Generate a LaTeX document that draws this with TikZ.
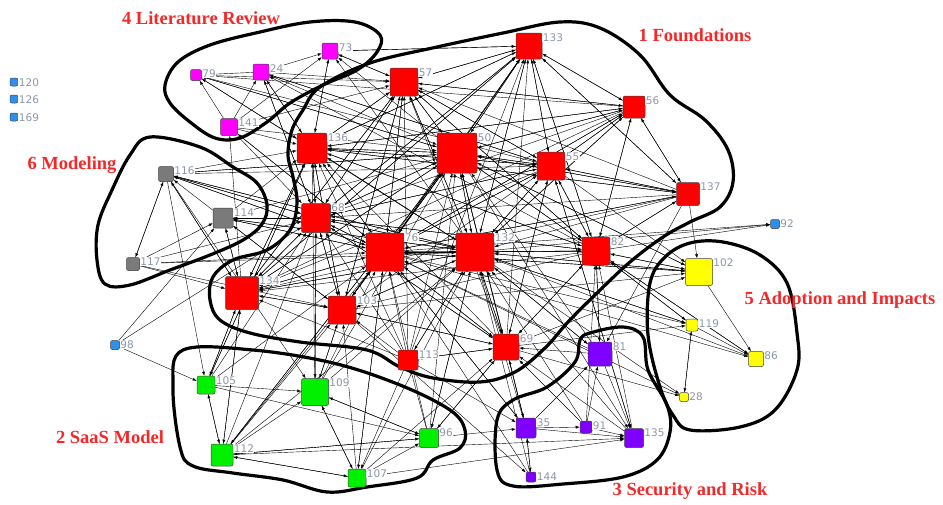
\documentclass[tikz,border=0pt]{standalone}
\usepackage{fontspec}
\setmainfont{Liberation Serif}
\newfontfamily\numfont{DejaVu Sans}
\usetikzlibrary{arrows.meta}

\definecolor{fred}{HTML}{FF0000}
\definecolor{fmag}{HTML}{FF00FF}
\definecolor{fgray}{HTML}{7A7A7A}
\definecolor{fyel}{HTML}{FFFF00}
\definecolor{fgreen}{HTML}{00F000}
\definecolor{fpur}{HTML}{8000FF}
\definecolor{fblue}{HTML}{2F8FEF}
\definecolor{numgray}{HTML}{8C96AA}
\definecolor{grpred}{HTML}{F42828}

\pgfdeclarelayer{bg}
\pgfsetlayers{bg,main}

\tikzset{
  art/.style={draw=black!75, line width=0.5pt, rounded corners=2pt,
    minimum size=#1, inner sep=0pt},
  lbl/.style={anchor=north west, inner sep=0.5pt, fill=white,
    font=\numfont\fontsize{10.5}{11}\selectfont, text=numgray},
  cite/.style={-{Latex[length=4pt,width=3pt]}, line width=0.4pt},
  hull/.style={line width=3.2pt, line join=round},
  grp/.style={font=\fontsize{18.5}{20}\selectfont\bfseries, text=grpred},
}

% articulo: nombre, x, y, lado, color
\newcommand{\art}[5]{\node[art=#4pt, fill=#5, label={[lbl]north east:#1}] (n#1) at (#2,#3) {};}

\begin{document}
\begin{tikzpicture}[x=1pt, y=-1pt]
        \useasboundingbox (0,0) rectangle (943,504);

        % Paso 1: Dibuja los contornos de los grupos
        \draw[hull] plot[smooth cycle, tension=0.6] coordinates {
          (303,110) (320,87) (370,63) (437,47) (503,33) (560,22) (600,28)
          (640,55) (670,95) (705,120) (728,150) (733,182) (720,207) (690,222)
          (663,237) (630,262) (597,293) (568,322) (545,348) (515,372) (480,382)
          (433,378) (400,367) (367,350) (300,342) (250,333) (220,320) (210,300)
          (213,277) (233,260) (267,250) (290,230) (297,203) (293,177) (288,155)
          (292,130)};
        \draw[hull] plot[smooth cycle, tension=0.6] coordinates {
          (165,85) (178,62) (210,45) (260,32) (310,22) (355,22) (380,35)
          (377,52) (357,70) (323,85) (290,103) (267,122) (240,138) (215,138)
          (190,122) (170,103)};
        \draw[hull] plot[smooth cycle, tension=0.6] coordinates {
          (150,137) (200,147) (233,167) (257,183) (267,205) (262,224) (243,240)
          (210,255) (170,270) (130,285) (105,284) (97,260) (98,225) (112,190)
          (130,155)};
        \draw[hull] plot[smooth cycle, tension=0.6] coordinates {
          (690,243) (723,242) (760,255) (787,283) (797,333) (797,370) (775,410)
          (740,427) (690,430) (673,415) (660,387) (648,335) (650,283) (665,257)};
        \draw[hull] plot[smooth cycle, tension=0.6] coordinates {
          (590,333) (623,327) (643,337) (648,370) (667,405) (670,432) (657,460)
          (623,477) (563,484) (513,486) (497,470) (497,420) (513,400) (547,387)
          (575,362) (580,340)};
        \draw[hull] plot[smooth cycle, tension=0.6] coordinates {
          (183,350) (253,350) (333,363) (400,385) (450,410) (465,430) (460,448)
          (433,460) (417,478) (367,487) (327,492) (283,480) (233,473) (193,466)
          (180,447) (173,387)};

        % Paso 2: Define los articulos
        \art{120}{14}{82}{8}{fblue}
        \art{126}{14}{99}{8}{fblue}
        \art{169}{14}{117}{8}{fblue}
        \art{79}{196}{75}{11}{fmag}
        \art{24}{261}{72}{16}{fmag}
        \art{73}{330}{51}{16}{fmag}
        \art{141}{229}{127}{17}{fmag}
        \art{133}{529}{46}{26}{fred}
        \art{57}{404}{82}{28}{fred}
        \art{56}{634}{107}{22}{fred}
        \art{136}{312}{148}{30}{fred}
        \art{50}{457}{153}{40}{fred}
        \art{55}{551}{166}{28}{fred}
        \art{137}{688}{194}{23}{fred}
        \art{116}{166}{174}{15}{fgray}
        \art{114}{223}{218}{20}{fgray}
        \art{117}{133}{264}{13}{fgray}
        \art{68}{316}{218}{29}{fred}
        \art{76}{385}{252}{38}{fred}
        \art{132}{475}{252}{38}{fred}
        \art{82}{596}{251}{28}{fred}
        \art{92}{775}{224}{9}{fblue}
        \art{134}{242}{293}{33}{fred}
        \art{103}{342}{310}{28}{fred}
        \art{102}{699}{272}{27}{fyel}
        \art{119}{692}{325}{12}{fyel}
        \art{86}{756}{359}{15}{fyel}
        \art{28}{684}{397}{9}{fyel}
        \art{98}{115}{345}{9}{fblue}
        \art{113}{408}{360}{20}{fred}
        \art{69}{506}{347}{26}{fred}
        \art{81}{600}{354}{24}{fpur}
        \art{105}{206}{385}{18}{fgreen}
        \art{109}{315}{392}{27}{fgreen}
        \art{96}{429}{438}{19}{fgreen}
        \art{112}{222}{455}{22}{fgreen}
        \art{107}{357}{478}{18}{fgreen}
        \art{35}{526}{428}{20}{fpur}
        \art{91}{586}{427}{12}{fpur}
        \art{135}{634}{438}{19}{fpur}
        \art{144}{531}{477}{10}{fpur}

        % Paso 3: Dibuja las citas
        \begin{pgfonlayer}{bg}
        \draw[cite] (n133) edge (n57) edge (n50) edge (n55) edge (n56) edge (n137) edge (n132) edge (n82) edge (n76) edge (n73) edge (n136) edge (n68) edge (n134);
        \draw[cite] (n57) edge (n133) edge (n50) edge (n136) edge (n55) edge (n76) edge (n132) edge (n68) edge (n56) edge (n82) edge (n103) edge (n73) edge (n134);
        \draw[cite] (n56) edge (n133) edge (n57) edge (n50) edge (n55) edge (n132) edge (n76) edge (n82) edge (n137) edge (n136) edge (n79) edge (n68) edge (n134);
        \draw[cite] (n136) edge (n57) edge (n50) edge (n133) edge (n68) edge (n76) edge (n132) edge (n134) edge (n55) edge (n103) edge (n24) edge (n73) edge (n105) edge (n82) edge (n56) edge (n137);
        \draw[cite] (n50) edge (n133) edge (n57) edge (n55) edge (n132) edge (n76) edge (n56) edge (n137) edge (n136) edge (n73) edge (n79) edge (n116) edge (n112) edge (n102) edge (n135) edge (n68) edge (n134) edge (n103) edge (n69) edge (n82);
        \draw[cite] (n55) edge (n133) edge (n50) edge (n57) edge (n56) edge (n132) edge (n76) edge (n82) edge (n137) edge (n69) edge (n24) edge (n79) edge (n102) edge (n135) edge (n68) edge (n134) edge (n136);
        \draw[cite] (n137) edge (n56) edge (n55) edge (n50) edge (n133) edge (n132) edge (n82) edge (n57) edge (n76) edge (n102) edge (n81) edge (n136) edge (n68) edge (n134);
        \draw[cite] (n68) edge (n136) edge (n50) edge (n76) edge (n132) edge (n57) edge (n134) edge (n103) edge (n133) edge (n55) edge (n24) edge (n116) edge (n114) edge (n109) edge (n82) edge (n69);
        \draw[cite] (n76) edge (n50) edge (n57) edge (n132) edge (n136) edge (n68) edge (n133) edge (n103) edge (n134) edge (n55) edge (n141) edge (n114) edge (n116) edge (n107) edge (n35) edge (n102) edge (n119) edge (n86) edge (n92) edge (n82) edge (n69) edge (n56) edge (n137);
        \draw[cite] (n132) edge (n50) edge (n76) edge (n133) edge (n57) edge (n55) edge (n82) edge (n69) edge (n56) edge (n136) edge (n79) edge (n73) edge (n116) edge (n114) edge (n96) edge (n81) edge (n102) edge (n119) edge (n28) edge (n92) edge (n68) edge (n134) edge (n103) edge (n113);
        \draw[cite] (n82) edge (n132) edge (n50) edge (n55) edge (n137) edge (n56) edge (n133) edge (n76) edge (n69) edge (n24) edge (n81) edge (n102) edge (n119) edge (n86) edge (n92) edge (n136) edge (n68) edge (n57) edge (n134) edge (n103);
        \draw[cite] (n134) edge (n136) edge (n68) edge (n76) edge (n50) edge (n132) edge (n57) edge (n103) edge (n133) edge (n141) edge (n116) edge (n114) edge (n105) edge (n112);
        \draw[cite] (n103) edge (n76) edge (n50) edge (n132) edge (n68) edge (n134) edge (n57) edge (n136) edge (n69) edge (n114) edge (n109) edge (n102) edge (n144) edge (n133) edge (n55);
        \draw[cite] (n113) edge (n76) edge (n132) edge (n103) edge (n50) edge (n68) edge (n134) edge (n69) edge (n57) edge (n107) edge (n35) edge (n136) edge (n133);
        \draw[cite] (n69) edge (n132) edge (n76) edge (n50) edge (n55) edge (n82) edge (n113) edge (n133) edge (n103) edge (n96) edge (n35) edge (n102) edge (n119) edge (n28) edge (n136) edge (n57) edge (n68);
        \draw[cite] (n79) edge (n136) edge (n57) edge (n50);
        \draw[cite] (n141) edge (n24) edge (n79) edge (n73) edge (n136) edge (n50) edge (n68) edge (n76) edge (n57);
        \draw[cite] (n24) edge (n79) edge (n73) edge (n57) edge (n136) edge (n50) edge (n55) edge (n68);
        \draw[cite] (n73) edge (n133) edge (n57) edge (n136);
        \draw[cite] (n117) edge (n116) edge (n114) edge (n134) edge (n76) edge (n68) edge (n132) edge (n103);
        \draw[cite] (n114) edge (n116) edge (n136) edge (n50) edge (n68) edge (n76) edge (n132) edge (n134) edge (n103);
        \draw[cite] (n116) edge (n117) edge (n134) edge (n109) edge (n105) edge (n55) edge (n50) edge (n68) edge (n76) edge (n132) edge (n136);
        \draw[cite] (n98) edge (n105) edge (n114) edge (n68);
        \draw[cite] (n105) edge (n109) edge (n112) edge (n134) edge (n96) edge (n76) edge (n68) edge (n136);
        \draw[cite] (n112) edge (n105) edge (n109) edge (n107) edge (n96) edge (n132) edge (n135) edge (n68) edge (n76) edge (n103) edge (n134) edge (n50);
        \draw[cite] (n109) edge (n107) edge (n76) edge (n136) edge (n132) edge (n50) edge (n68) edge (n103) edge (n96);
        \draw[cite] (n107) edge (n109) edge (n112) edge (n69) edge (n135) edge (n132) edge (n76) edge (n103) edge (n96);
        \draw[cite] (n96) edge (n109) edge (n112) edge (n132) edge (n35) edge (n76) edge (n50) edge (n69) edge (n113);
        \draw[cite] (n35) edge (n81) edge (n144) edge (n135) edge (n91) edge (n132) edge (n76) edge (n69) edge (n50);
        \draw[cite] (n91) edge (n81) edge (n135) edge (n132) edge (n69) edge (n82);
        \draw[cite] (n144) edge (n35) edge (n132) edge (n76);
        \draw[cite] (n81) edge (n135) edge (n132) edge (n82) edge (n69) edge (n50) edge (n76);
        \draw[cite] (n135) edge (n82) edge (n132) edge (n69) edge (n55);
        \draw[cite] (n102) edge (n86) edge (n132) edge (n76) edge (n50) edge (n82);
        \draw[cite] (n119) edge (n86) edge (n28) edge (n132) edge (n82);
        \draw[cite] (n86) edge (n132) edge (n82);
        \draw[cite] (n28) edge (n119) edge (n76);
        \end{pgfonlayer}

        % Paso 4: Agrega los nombres de los grupos
        \node[grp] (g1) at (695,35) {1 Foundations};
        \node[grp] (g2) at (110,437) {2 SaaS Model};
        \node[grp] (g3) at (690,491) {3 Security and Risk};
        \node[grp] (g4) at (201,18) {4 Literature Review};
        \node[grp] (g5) at (840,300) {5 Adoption and Impacts};
        \node[grp] (g6) at (72,165) {6 Modeling};
\end{tikzpicture}
\end{document}
